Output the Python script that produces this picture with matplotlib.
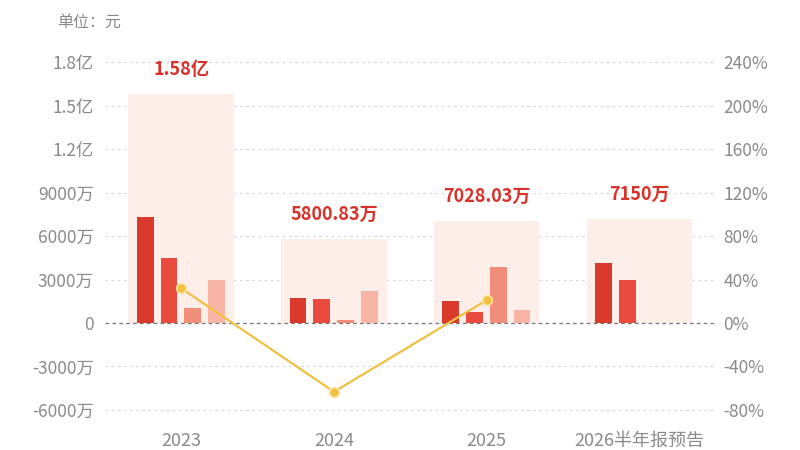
import matplotlib
matplotlib.use("Agg")
import matplotlib.pyplot as plt
import numpy as np

plt.rcParams["font.family"] = ["Noto Sans CJK SC", "DejaVu Sans"]

# data (单位: 万元)
years = ["2023", "2024", "2025", "2026半年报预告"]
totals = [15800, 5800.83, 7028.03, 7150]
total_labels = ["1.58亿", "5800.83万", "7028.03万", "7150万"]
q1 = [7310, 1724, 1517, 4160]
q2 = [4483, 1655, 759, 2990]
q3 = [1034, 207, 3862, None]
q4 = [2973, 2215, 890, None]
growth = [32, -63.3, 21.2]

left_ticks = [-6000, -3000, 0, 3000, 6000, 9000, 12000, 15000, 18000]
left_labels = ["-6000万", "-3000万", "0", "3000万", "6000万", "9000万", "1.2亿", "1.5亿", "1.8亿"]
right_ticks = [-80, -40, 0, 40, 80, 120, 160, 200, 240]

bar_colors = ["#d93a2b", "#e94c3f", "#f08d7b", "#f8b5a6"]
box_color = "#fdeeea"
line_color = "#f0c042"
text_gray = "#8a8a8a"
red = "#d8322a"


def main():
    fig = plt.figure(figsize=(8, 4.5), dpi=100)
    ax = fig.add_axes([0.131, 0.044, 0.763, 0.856])
    ax2 = ax.twinx()

    x = np.arange(len(years))
    ylo, yhi = -7400, 19200
    ax.set_ylim(ylo, yhi)
    ax2.set_ylim(ylo * 40 / 3000, yhi * 40 / 3000)
    ax.set_xlim(-0.50, 3.495)

    # background total boxes
    ax.bar(x, totals, width=0.69, color=box_color, zorder=1)

    # quarter bars
    offsets = [-0.235, -0.08, 0.075, 0.23]
    for series, off, col in zip([q1, q2, q3, q4], offsets, bar_colors):
        xs = [xi + off for xi, v in zip(x, series) if v is not None]
        vs = [v for v in series if v is not None]
        ax.bar(xs, vs, width=0.11, color=col, zorder=3)

    for xi, t, lab in zip(x, totals, total_labels):
        ax.annotate(lab, (xi, t), xytext=(0, 11), textcoords="offset points",
                    ha="center", va="bottom", color=red, fontsize=13,
                    fontweight="bold", zorder=5)

    # grid
    for t in left_ticks:
        if t == 0:
            ax.axhline(0, color="#777777", lw=0.9, ls=(0, (3, 2.5)), zorder=2)
        else:
            ax.axhline(t, color="#d9d9d9", lw=0.8, ls=(0, (2.5, 3)), zorder=0)

    # growth line
    ax2.plot(x[:3], growth, color=line_color, lw=1.6, marker="o", ms=7,
             mfc=line_color, mec="#fbe3a0", mew=1.2, zorder=6)

    ax.set_yticks(left_ticks)
    ax.set_yticklabels(left_labels)
    ax2.set_yticks(right_ticks)
    ax2.set_yticklabels([f"{t}%" for t in right_ticks])
    ax.set_xticks(x)
    ax.set_xticklabels(years)

    for a in (ax, ax2):
        for s in a.spines.values():
            s.set_visible(False)
        a.tick_params(length=0, colors=text_gray, labelsize=12.5)
    ax.tick_params(axis="y", pad=8)
    ax2.tick_params(axis="y", pad=6)
    ax.tick_params(axis="x", pad=1, labelsize=13)

    fig.text(0.071, 0.95, "单位：元", color=text_gray, fontsize=11.5, va="center")

    fig.savefig("out.png", dpi=100, facecolor="white")


if __name__ == "__main__":
    main()
